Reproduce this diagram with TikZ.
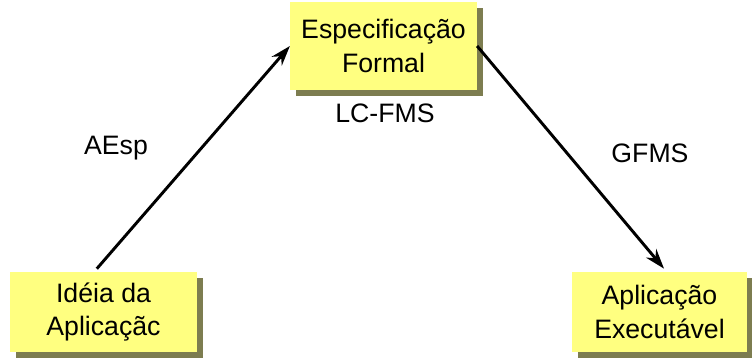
\documentclass[tikz,border=0pt]{standalone}
\usepackage{fontspec}
\setmainfont{Liberation Sans}
\usetikzlibrary{shadows,arrows.meta}

\definecolor{caixaamarela}{RGB}{255,255,128}
\definecolor{sombra}{RGB}{125,125,80}

\tikzset{
	caixa/.style={fill=caixaamarela, align=center, inner sep=0pt, minimum height=60pt,
		font=\fontsize{20}{25}\selectfont,
		drop shadow={shadow xshift=4.5pt, shadow yshift=-4.5pt, fill=sombra, opacity=1}},
	seta/.style={line width=2.2pt, -{Stealth[length=15pt,width=10pt]}},
	rotulo/.style={font=\fontsize{20}{25}\selectfont, inner sep=0pt}
}

\begin{document}
\begin{tikzpicture}[x=0.75pt,y=0.75pt,yscale=-1,xscale=1]
	\useasboundingbox (0,0) rectangle (752,363);
	
	% Caixas
	\node [caixa, minimum width=140pt] (ideia) at (103.5,312) {Idéia da\\Aplicaçãc};
	\node [caixa, minimum width=140pt, minimum height=66pt] (espec) at (383.5,46) {Especificação\\Formal};
	\node [caixa, minimum width=131pt] (aplic) at (659.5,312) {Aplicação\\Executável};
	
	% Setas
	\draw [seta, shorten <=3pt] (ideia.103) -- (espec.west);
	\draw [seta, shorten >=3pt] (espec.east) -- (aplic.80);
	
	% Rotulos
	\node [rotulo] (aesp) at (116,148) {AEsp};
	\node [rotulo] (lcfms) at (385,113) {LC-FMS};
	\node [rotulo] (gfms) at (650,153) {GFMS};
\end{tikzpicture}
\end{document}
